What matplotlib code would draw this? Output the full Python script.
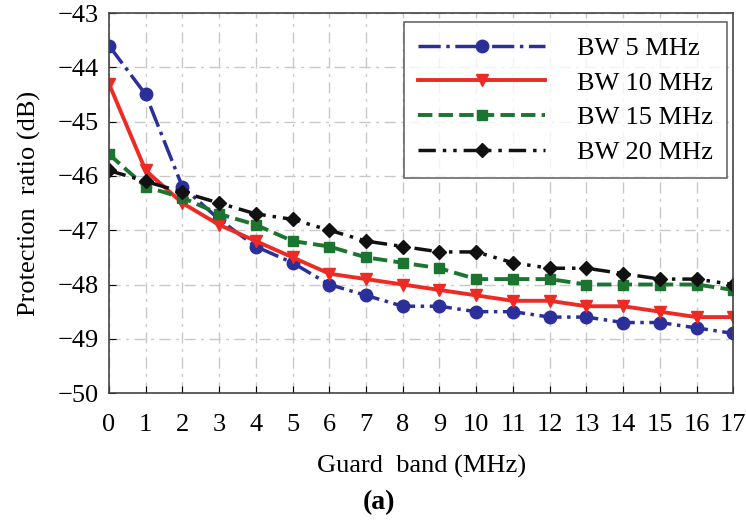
import matplotlib
matplotlib.use("Agg")
import matplotlib.pyplot as plt

guard_band = list(range(18))
bw5 = [-43.6, -44.5, -46.2, -46.8, -47.3, -47.6, -48.0, -48.2, -48.4, -48.4,
       -48.5, -48.5, -48.6, -48.6, -48.7, -48.7, -48.8, -48.9]
bw10 = [-44.3, -45.9, -46.5, -46.9, -47.2, -47.5, -47.8, -47.9, -48.0, -48.1,
        -48.2, -48.3, -48.3, -48.4, -48.4, -48.5, -48.6, -48.6]
bw15 = [-45.6, -46.2, -46.4, -46.7, -46.9, -47.2, -47.3, -47.5, -47.6, -47.7,
        -47.9, -47.9, -47.9, -48.0, -48.0, -48.0, -48.0, -48.1]
bw20 = [-45.9, -46.1, -46.3, -46.5, -46.7, -46.8, -47.0, -47.2, -47.3, -47.4,
        -47.4, -47.6, -47.7, -47.7, -47.8, -47.9, -47.9, -48.0]
labels = ["BW 5 MHz", "BW 10 MHz", "BW 15 MHz", "BW 20 MHz"]
yticks = [-50, -49, -48, -47, -46, -45, -44, -43]

plt.rcParams['font.family'] = ['Liberation Serif', 'DejaVu Serif']

fig = plt.figure(figsize=(7.46, 5.2), dpi=100)
ax = fig.add_axes([0.146, 0.244, 0.837, 0.731])

ax.plot(guard_band, bw5, color='#2b2f9a', linestyle='-.', lw=2.5, marker='o', ms=9, label=labels[0])
ax.plot(guard_band, bw10, color='#ee2a24', linestyle='-', lw=2.8, marker='v', ms=8, label=labels[1])
ax.plot(guard_band, bw15, color='#1c7431', linestyle='--', lw=2.8, marker='s', ms=7, label=labels[2])
ax.plot(guard_band, bw20, color='#111111', linestyle=(0, (5, 2, 1, 2, 1, 2)), lw=2.5, marker='D', ms=7, label=labels[3])

ax.set_xlim(0, 17)
ax.set_ylim(-50, -43)
ax.set_xticks(guard_band)
ax.set_yticks(yticks)
ax.set_yticklabels([f"\u2212{abs(v)}" for v in yticks])
ax.tick_params(direction='in', labelsize=19, length=5)
ax.tick_params(axis='x', pad=15)
ax.tick_params(axis='y', pad=7)
ax.grid(True, color='#c8c8c8', linestyle=(0, (8, 4, 2, 4)), lw=1.0)
for s in ax.spines.values():
    s.set_color('#444444')
    s.set_linewidth(1.2)

ax.set_xlabel("Guard  band (MHz)", fontsize=19, labelpad=14)
ax.set_ylabel("Protection  ratio (dB)", fontsize=19, labelpad=12)

leg = ax.legend(loc='upper right', fontsize=19, handlelength=4.8, frameon=True,
                fancybox=False, edgecolor='#444444', borderpad=0.55, labelspacing=0.42,
                handletextpad=1.2, borderaxespad=0, bbox_to_anchor=(0.99, 0.976))
leg.get_frame().set_linewidth(1.2)

fig.text(0.508, 0.02, "(a)", fontsize=20, fontweight='bold', ha='center')

fig.savefig("out.png", dpi=100)
